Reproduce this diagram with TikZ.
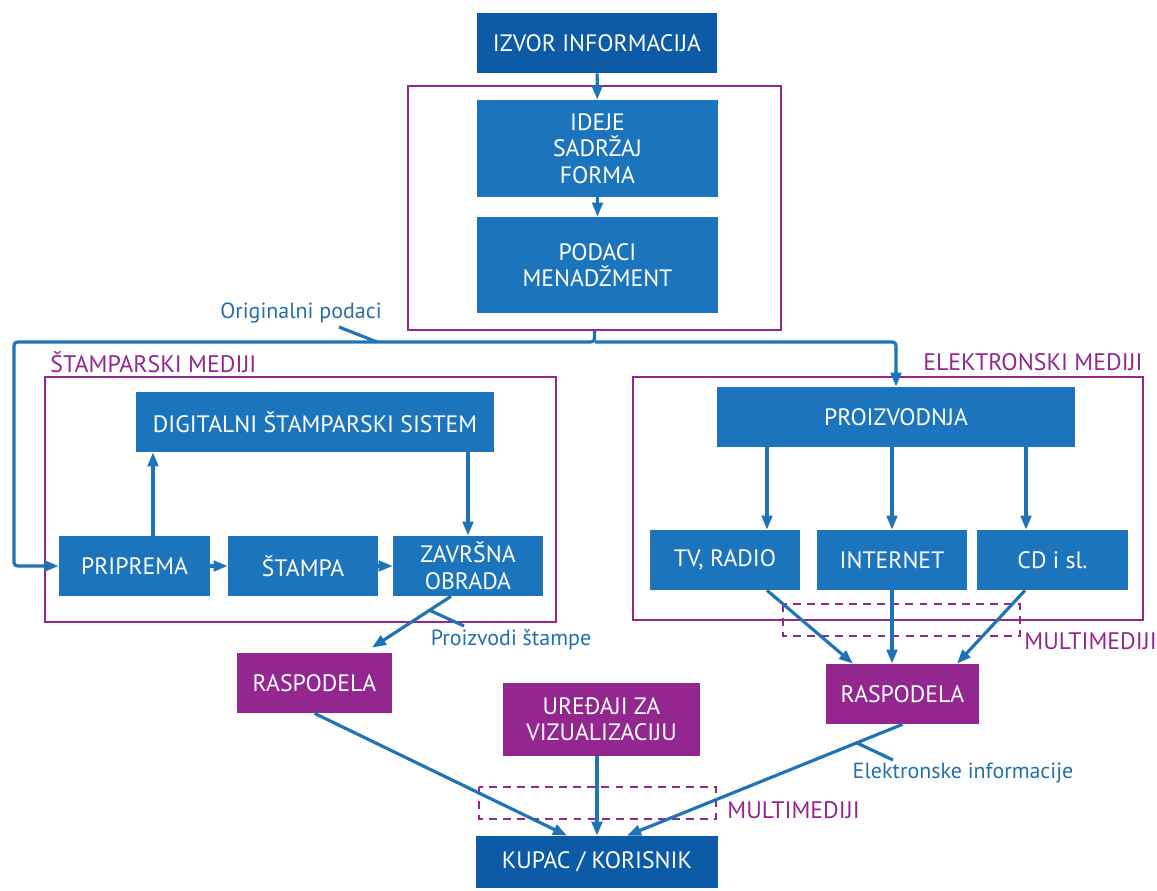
\documentclass[tikz,border=0pt]{standalone}
\usepackage{fontspec}
\setmainfont{PT Sans}
\usetikzlibrary{arrows.meta, calc}

\definecolor{boxblue}{HTML}{1C75BC}
\definecolor{darkblue}{HTML}{0D5BA6}
\definecolor{mediapurple}{HTML}{93278F}
\definecolor{lineblue}{HTML}{1F73B7}
\definecolor{lblblue}{HTML}{2470A6}

\newcommand{\boxfont}{\fontsize{13.5}{15}\selectfont}
\newcommand{\lblfont}{\fontsize{12.5}{14}\selectfont}
\newcommand{\mediafont}{\fontsize{13.6}{15}\selectfont}

\begin{document}
\begin{tikzpicture}[x=0.02cm, y=-0.02cm,
    box/.style={fill=boxblue, text=white, inner sep=0pt, align=center,
      minimum width=3cm, minimum height=1.2cm, font=\boxfont},
    darkbox/.style={box, fill=darkblue},
    purplebox/.style={box, fill=mediapurple},
    frame/.style={draw=mediapurple, line width=1.4pt, inner sep=0pt},
    mmframe/.style={draw=mediapurple, line width=1.4pt, dash pattern=on 4.5pt off 3.5pt},
    conn/.style={draw=lineblue, line width=1.8pt, -{Triangle[length=8pt,width=6pt]}},
    tick/.style={draw=lineblue, line width=1.8pt},
    bluelbl/.style={text=lblblue, font=\lblfont, inner sep=0pt},
    purplelbl/.style={text=mediapurple, font=\mediafont, inner sep=0pt}]
  \useasboundingbox (0,0) rectangle (1157,891);
  % frames
  \node[frame, minimum width=7.46cm, minimum height=4.88cm] (topfr) at (594.5,208) {};
  \node[frame, minimum width=10.22cm, minimum height=4.9cm] (printfr) at (300.5,499.5) {};
  \node[frame, minimum width=10.2cm, minimum height=4.86cm] (elecfr) at (888,498.5) {};
  \draw[mmframe] (783,604) rectangle (1020,636);
  \draw[mmframe] (479,787) rectangle (716,819);
  % top column
  \node[darkbox, minimum width=4.8cm] (izvor) at (597,43) {IZVOR INFORMACIJA};
  \node[box, minimum width=4.82cm, minimum height=1.94cm] (ideje) at (597.5,148.5) {IDEJE\\SADRŽAJ\\FORMA};
  \node[box, minimum width=4.82cm, minimum height=1.92cm] (podaci) at (597.5,265) {PODACI\\MENADŽMENT};
  % print media
  \node[box, minimum width=7.16cm] (digital) at (315,422) {DIGITALNI ŠTAMPARSKI SISTEM};
  \node[box, minimum width=3.02cm] (priprema) at (134.5,566) {PRIPREMA};
  \node[box] (stampa) at (303,566) {ŠTAMPA};
  \node[box] (zavrsna) at (468,566) {ZAVRŠNA\\OBRADA};
  % electronic media
  \node[box, minimum width=7.16cm] (proizv) at (896,417) {PROIZVODNJA};
  \node[box] (tv) at (725,560) {TV, RADIO};
  \node[box] (internet) at (892,560) {INTERNET};
  \node[box, minimum width=3.02cm] (cd) at (1052.5,560) {CD i sl.};
  % distribution and user
  \node[purplebox, minimum width=3.1cm] (rasp1) at (314.5,683) {RASPODELA};
  \node[purplebox, minimum width=3.06cm] (rasp2) at (902.5,694) {RASPODELA};
  \node[purplebox, minimum width=3.94cm, minimum height=1.46cm] (uredjaji) at (601.5,719.5) {UREĐAJI ZA\\VIZUALIZACIJU};
  \node[darkbox, minimum width=4.84cm, minimum height=1.04cm] (kupac) at (597,862) {KUPAC / KORISNIK};
  % labels
  \node[purplelbl, anchor=west] (printlbl) at (50,362) {ŠTAMPARSKI MEDIJI};
  \node[purplelbl, anchor=east] (eleclbl) at (1143,362) {ELEKTRONSKI MEDIJI};
  \node[purplelbl, anchor=west] (mmlbl1) at (1024,641) {MULTIMEDIJI};
  \node[purplelbl, anchor=west] (mmlbl2) at (727,810) {MULTIMEDIJI};
  \node[bluelbl] (origlbl) at (301,313) {Originalni podaci};
  \node[bluelbl] (stampelbl) at (511,640) {Proizvodi štampe};
  \node[bluelbl] (eleklbl) at (963,773) {Elektronske informacije};
  % top column arrows
  \draw[conn] (izvor) -- (ideje);
  \draw[conn] (ideje) -- (podaci);
  % original data split
  \coordinate (split) at (595,342);
  \coordinate (leftcorner) at (14,342);
  \draw[conn, rounded corners=2pt] (topfr.south) |- (leftcorner) |- (priprema.west);
  \draw[conn, rounded corners=2pt] (split) -| (proizv.north);
  \draw[tick] (377,342) -- (339,327);
  % print media arrows
  \draw[conn] ([xshift=0.37cm]priprema.north) -- ([xshift=0.37cm]priprema.north |- digital.south);
  \draw[conn] (digital.south -| zavrsna.north) -- (zavrsna.north);
  \draw[conn] (priprema) -- (stampa);
  \draw[conn] (stampa) -- (zavrsna);
  \draw[conn] ([xshift=-0.34cm]zavrsna.south) -- ([xshift=1.15cm, yshift=0.1cm]rasp1.north);
  \draw[tick] (429,610) -- (464,626);
  % electronic media arrows
  \draw[conn] ([xshift=0.84cm]tv.north |- proizv.south) -- ([xshift=0.84cm]tv.north);
  \draw[conn] (proizv.south -| internet.north) -- (internet.north);
  \draw[conn] ([xshift=-0.53cm]cd.north |- proizv.south) -- ([xshift=-0.53cm]cd.north);
  \draw[conn] ([xshift=0.84cm]tv.south) -- ([xshift=-0.99cm]rasp2.north);
  \draw[conn] (internet.south) -- (internet.south |- rasp2.north);
  \draw[conn] ([xshift=-0.55cm]cd.south) -- ([xshift=1.09cm]rasp2.north);
  % to the user
  \draw[conn] (rasp1.south) -- ([xshift=-0.6cm]kupac.north);
  \draw[conn] (uredjaji.south -| kupac.north) -- (kupac.north);
  \draw[conn] (rasp2.south) -- ([xshift=0.6cm]kupac.north);
  \draw[tick] (857,743) -- (893,760);
\end{tikzpicture}
\end{document}
